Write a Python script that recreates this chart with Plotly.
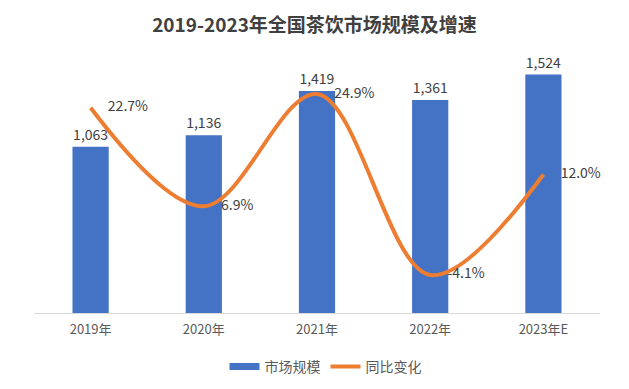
import plotly.graph_objects as go

categories = ["2019年", "2020年", "2021年", "2022年", "2023年E"]
market_size = [1063, 1136, 1419, 1361, 1524]
yoy_growth = [22.7, 6.9, 24.9, -4.1, 12.0]

FONT = "Noto Sans CJK SC, Open Sans, sans-serif"
TXT = "#404040"
BAR_COLOR = "#4472C4"
LINE_COLOR = "#ED7D31"

fig = go.Figure()
fig.add_trace(go.Bar(
    x=categories, y=market_size, name="市场规模", showlegend=False,
    marker=dict(color=BAR_COLOR, line=dict(width=0)),
    width=0.32,
    text=[f"{v:,}" for v in market_size],
    textposition="outside",
    textfont=dict(size=14, color=TXT, family=FONT),
    cliponaxis=False,
))
# legend-only proxy giving the wide flat swatch of the bar series
fig.add_trace(go.Scatter(
    x=[None], y=[None], name="市场规模", mode="lines",
    line=dict(color=BAR_COLOR, width=7),
))
fig.add_trace(go.Scatter(
    x=categories, y=yoy_growth, name="同比变化", yaxis="y2",
    mode="lines+markers+text",
    line=dict(color=LINE_COLOR, width=4, shape="spline", smoothing=1.0),
    marker=dict(size=26, color="rgba(0,0,0,0)", line=dict(width=0)),
    text=[f"{v:.1f}%" for v in yoy_growth],
    textposition="middle right",
    textfont=dict(size=14, color=TXT, family=FONT),
    cliponaxis=False,
))

fig.update_layout(
    width=629, height=389,
    margin=dict(l=34, r=29, t=60, b=76, autoexpand=False),
    paper_bgcolor="white", plot_bgcolor="white",
    font=dict(family=FONT, color=TXT),
    title=dict(text="<b>2019-2023年全国茶饮市场规模及增速</b>", x=0.5, xanchor="center",
               y=0.935, yanchor="middle", font=dict(size=19, color=TXT, family=FONT)),
    xaxis=dict(range=[-0.5, 4.5], autorange=False, showgrid=False, showline=True,
               linecolor="#D9D9D9", linewidth=1, ticklabelstandoff=4,
               ticks="", tickfont=dict(size=13, color="#595959", family=FONT)),
    yaxis=dict(range=[0, 1617], visible=False, showgrid=False, zeroline=False),
    yaxis2=dict(range=[-10.2, 30.35], overlaying="y", side="right", visible=False,
                showgrid=False, zeroline=False),
    legend=dict(orientation="h", x=0.515, xanchor="center", y=-0.213, yanchor="middle",
                font=dict(size=14, color="#595959", family=FONT), itemwidth=30),
    showlegend=True,
)

fig.write_html("out.html", config={"displayModeBar": False},
               post_script="document.body.style.margin='0px';document.body.style.overflow='hidden';")
